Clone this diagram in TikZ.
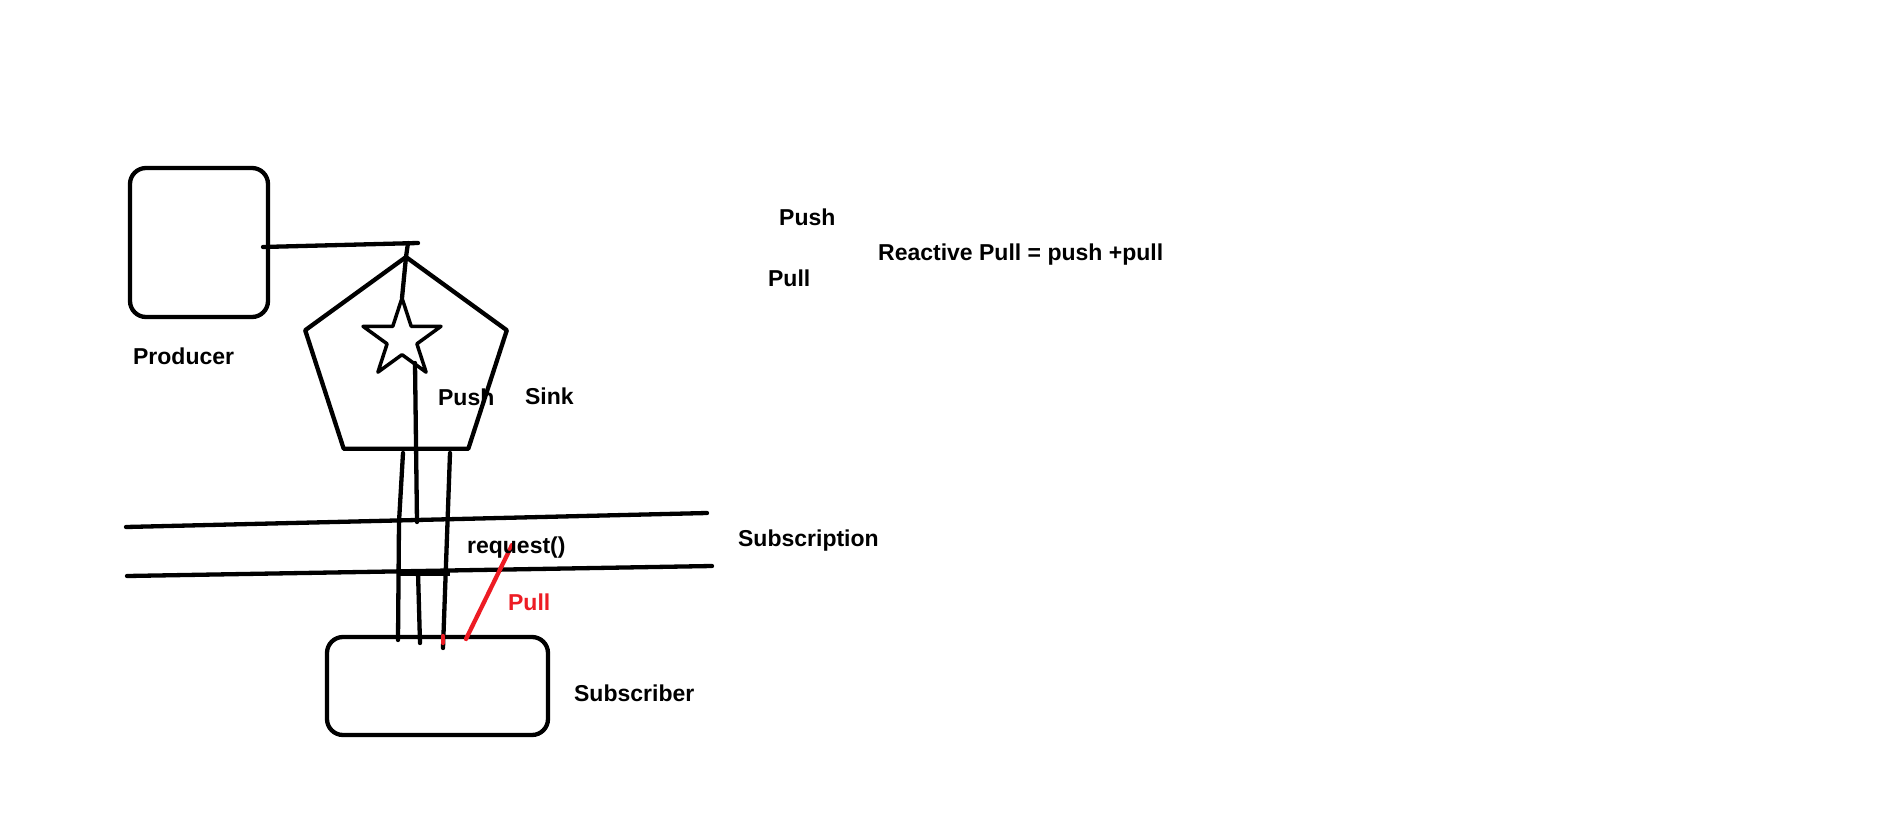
\documentclass[tikz,border=0pt]{standalone}
\usepackage{fontspec}
\setmainfont{Liberation Sans}
\usetikzlibrary{shapes.geometric}
\definecolor{paintred}{RGB}{237,28,36}
\begin{document}
\begin{tikzpicture}[x=1pt,y=-1pt,line width=4.3pt,line cap=round,line join=round,
  box/.style={draw,rounded corners=16pt,inner sep=0pt,outer sep=0pt},
  lbl/.style={font=\fontsize{23}{27}\selectfont\bfseries,anchor=base west,inner sep=0pt},
  wire/.style={draw,line width=4.3pt},
  redwire/.style={draw=paintred,line width=4.3pt}]
\useasboundingbox[fill=white] (0,0) rectangle (1901,822);

% shapes
\node[box,minimum width=138,minimum height=149] (producer) at (199,242.5) {};
\node[box,minimum width=221,minimum height=98] (subscriber) at (437.5,686) {};
\node[draw,regular polygon,regular polygon sides=5,minimum size=212,inner sep=0pt,outer sep=0pt] (sink) at (406,363) {};
\node[draw,star,star points=5,star point ratio=2.618,minimum size=82,inner sep=0pt,outer sep=0pt,line width=3.5pt] (star) at (402,339) {};

% coordinates for connector ends
\coordinate (pstart) at (263,247);
\coordinate (pend) at (418,243);
\coordinate (tick) at (408,243);
\coordinate (midtop) at (415,363);
\coordinate (midbot) at (417,522);
\coordinate (ltop) at (403,453);
\coordinate (lkink) at (399,522);
\coordinate (lbot) at (398,640);
\coordinate (rtop) at (450,453);
\coordinate (rbot) at (443,648);
\coordinate (lmtop) at (418,572);
\coordinate (lmbot) at (420,643);
\coordinate (barl) at (398,572);
\coordinate (barr) at (450,572);
\coordinate (u1) at (126,527);
\coordinate (u2) at (707,513);
\coordinate (d1) at (127,576);
\coordinate (d2) at (712,566);
\coordinate (r1) at (512,545);
\coordinate (r2) at (466,639);
\coordinate (rd1) at (443,636);
\coordinate (rd2) at (443,643);

% connectors
\draw[wire] (pstart) -- (pend);
\draw[wire] (tick) -- (sink.corner 1) -- (star.outer point 1);
\draw[wire] (midtop) -- (midbot);
\draw[wire] (ltop) -- (lkink) -- (lbot);
\draw[wire] (rtop) -- (rbot);
\draw[wire] (lmtop) -- (lmbot);
\draw[wire,line width=7pt,line cap=butt] (barl) -- (barr);
\draw[wire] (u1) -- (u2);
\draw[wire] (d1) -- (d2);
\draw[redwire] (r1) -- (r2);
\draw[redwire] (rd1) -- (rd2);

% labels
\node[lbl] (tproducer) at (131,364) {Producer};
\node[lbl] (tpush) at (436,405) {Push};
\node[lbl] (tsink) at (523,404) {Sink};
\node[lbl] (tsubscription) at (736,546) {Subscription};
\node[lbl] (trequest) at (465,553) {request()};
\node[lbl,text=paintred] (tpull) at (506,610) {Pull};
\node[lbl] (tsubscriber) at (572,701) {Subscriber};
\node[lbl] (tpushtop) at (777,225) {Push};
\node[lbl] (treactive) at (876,260) {Reactive Pull = push +pull};
\node[lbl] (tpulltop) at (766,286) {Pull};
\end{tikzpicture}
\end{document}
